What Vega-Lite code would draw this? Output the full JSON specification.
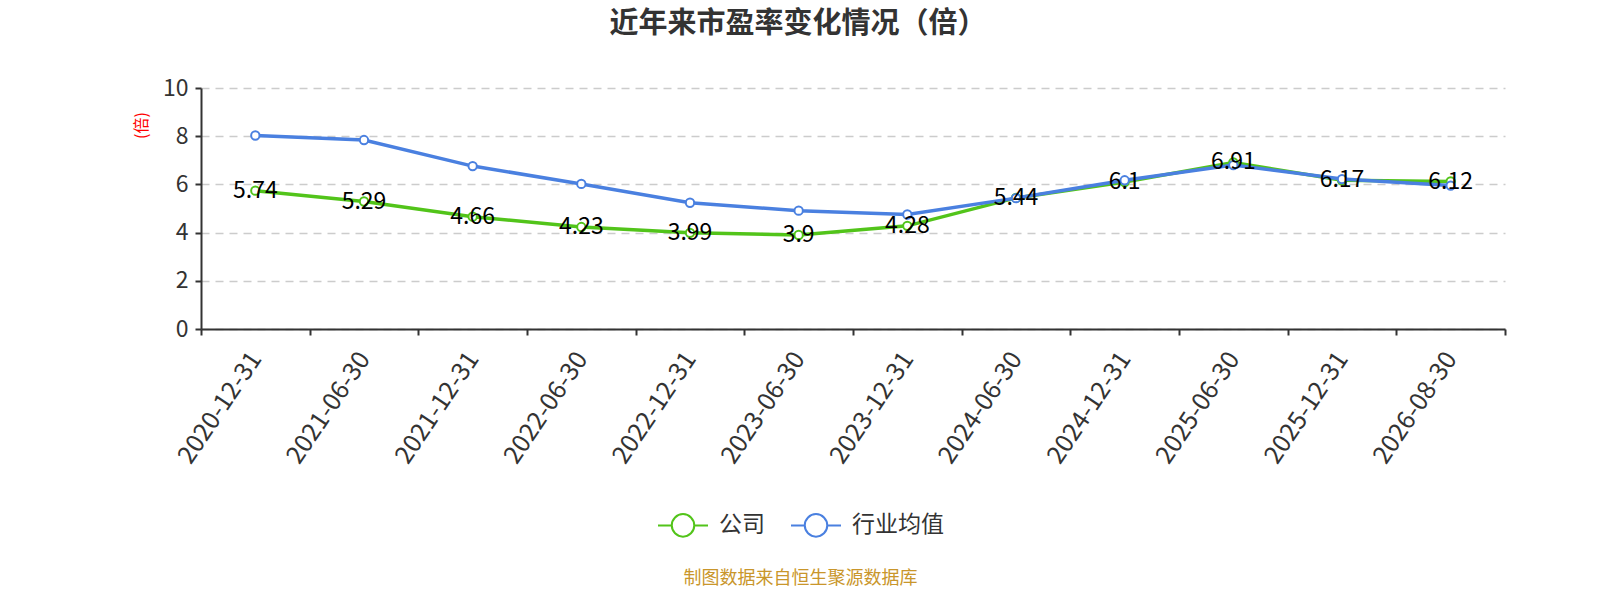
{
  "$schema": "https://vega.github.io/schema/vega-lite/v6.json",
  "autosize": "none",
  "width": 1304,
  "height": 241,
  "padding": {"left": 201, "top": 88, "right": 95, "bottom": 271},
  "background": "white",
  "config": {
    "font": "Noto Sans CJK SC",
    "view": {"stroke": null}
  },
  "title": {
    "text": "近年来市盈率变化情况（倍）",
    "frame": "group",
    "anchor": "middle",
    "dx": -55,
    "offset": 38,
    "fontSize": 29,
    "fontWeight": "bold",
    "color": "#333333",
    "font": "Noto Sans CJK SC"
  },
  "data": {
    "values": [
      {"date": "2020-12-31", "series": "公司", "value": 5.74},
      {"date": "2021-06-30", "series": "公司", "value": 5.29},
      {"date": "2021-12-31", "series": "公司", "value": 4.66},
      {"date": "2022-06-30", "series": "公司", "value": 4.23},
      {"date": "2022-12-31", "series": "公司", "value": 3.99},
      {"date": "2023-06-30", "series": "公司", "value": 3.9},
      {"date": "2023-12-31", "series": "公司", "value": 4.28},
      {"date": "2024-06-30", "series": "公司", "value": 5.44},
      {"date": "2024-12-31", "series": "公司", "value": 6.1},
      {"date": "2025-06-30", "series": "公司", "value": 6.91},
      {"date": "2025-12-31", "series": "公司", "value": 6.17},
      {"date": "2026-08-30", "series": "公司", "value": 6.12},
      {"date": "2020-12-31", "series": "行业均值", "value": 8.03},
      {"date": "2021-06-30", "series": "行业均值", "value": 7.84},
      {"date": "2021-12-31", "series": "行业均值", "value": 6.76},
      {"date": "2022-06-30", "series": "行业均值", "value": 6.02},
      {"date": "2022-12-31", "series": "行业均值", "value": 5.24},
      {"date": "2023-06-30", "series": "行业均值", "value": 4.91},
      {"date": "2023-12-31", "series": "行业均值", "value": 4.75},
      {"date": "2024-06-30", "series": "行业均值", "value": 5.43},
      {"date": "2024-12-31", "series": "行业均值", "value": 6.17},
      {"date": "2025-06-30", "series": "行业均值", "value": 6.8},
      {"date": "2025-12-31", "series": "行业均值", "value": 6.22},
      {"date": "2026-08-30", "series": "行业均值", "value": 5.95}
    ]
  },
  "encoding": {
    "x": {
      "field": "date",
      "type": "ordinal",
      "sort": null,
      "scale": {"type": "band", "paddingInner": 0, "paddingOuter": 0},
      "axis": {
        "title": "制图数据来自恒生聚源数据库",
        "titleColor": "#C9962B",
        "titleFontSize": 18,
        "titleFontWeight": "normal",
        "titleFont": "Noto Sans CJK SC",
        "titleX": 599,
        "titleY": 249,
        "titleAlign": "center",
        "titleBaseline": "middle",
        "labelAngle": -56,
        "labelAlign": "right",
        "labelBaseline": "middle",
        "labelFontSize": 25,
        "labelColor": "#333333",
        "labelPadding": 19,
        "labelOverlap": false,
        "tickBand": "extent",
        "tickSize": 6,
        "tickWidth": 2,
        "tickColor": "#333333",
        "domainColor": "#333333",
        "domainWidth": 2,
        "grid": false
      }
    },
    "y": {
      "field": "value",
      "type": "quantitative",
      "scale": {"domain": [0, 10], "nice": false},
      "axis": {
        "title": "(倍)",
        "titleColor": "#FF0000",
        "titleFontSize": 16,
        "titleFontWeight": "normal",
        "titleAngle": -90,
        "titleX": -60,
        "titleY": 37,
        "titleAlign": "center",
        "titleBaseline": "middle",
        "values": [0, 2, 4, 6, 8, 10],
        "labelFontSize": 23,
        "labelColor": "#333333",
        "labelPadding": 7,
        "tickSize": 6,
        "tickWidth": 2,
        "tickColor": "#333333",
        "domainColor": "#333333",
        "domainWidth": 2,
        "gridColor": "#CCCCCC",
        "gridDash": [8, 6],
        "gridWidth": 1.5
      }
    },
    "color": {
      "field": "series",
      "type": "nominal",
      "scale": {"domain": ["公司", "行业均值"], "range": ["#52C41A", "#4A80E0"]},
      "legend": {
        "title": null,
        "orient": "none",
        "direction": "horizontal",
        "legendX": 456,
        "legendY": 411,
        "symbolType": "M-1,0H-0.45M0.45,0H1M-0.45,0A0.45,0.45,0,1,1,0.45,0A0.45,0.45,0,1,1,-0.45,0Z",
        "symbolSize": 2500,
        "symbolStrokeWidth": 2,
        "symbolFillColor": "white",
        "labelFontSize": 23,
        "labelColor": "#333333",
        "labelOffset": 10,
        "columnPadding": 22
      }
    }
  },
  "layer": [
    {
      "transform": [{"filter": "datum.series === '公司'"}],
      "mark": {"type": "line", "strokeWidth": 3.5}
    },
    {
      "transform": [{"filter": "datum.series === '公司'"}],
      "mark": {"type": "point", "filled": false, "fill": "white", "size": 70, "strokeWidth": 2, "opacity": 1}
    },
    {
      "transform": [{"filter": "datum.series === '行业均值'"}],
      "mark": {"type": "line", "strokeWidth": 3.5}
    },
    {
      "transform": [{"filter": "datum.series === '行业均值'"}],
      "mark": {"type": "point", "filled": false, "fill": "white", "size": 70, "strokeWidth": 2, "opacity": 1}
    },
    {
      "transform": [{"filter": "datum.series === '公司'"}],
      "mark": {"type": "text", "fontSize": 23, "align": "center", "baseline": "middle"},
      "encoding": {
        "text": {"field": "value", "type": "quantitative"},
        "color": {"value": "#000000"}
      }
    }
  ]
}
